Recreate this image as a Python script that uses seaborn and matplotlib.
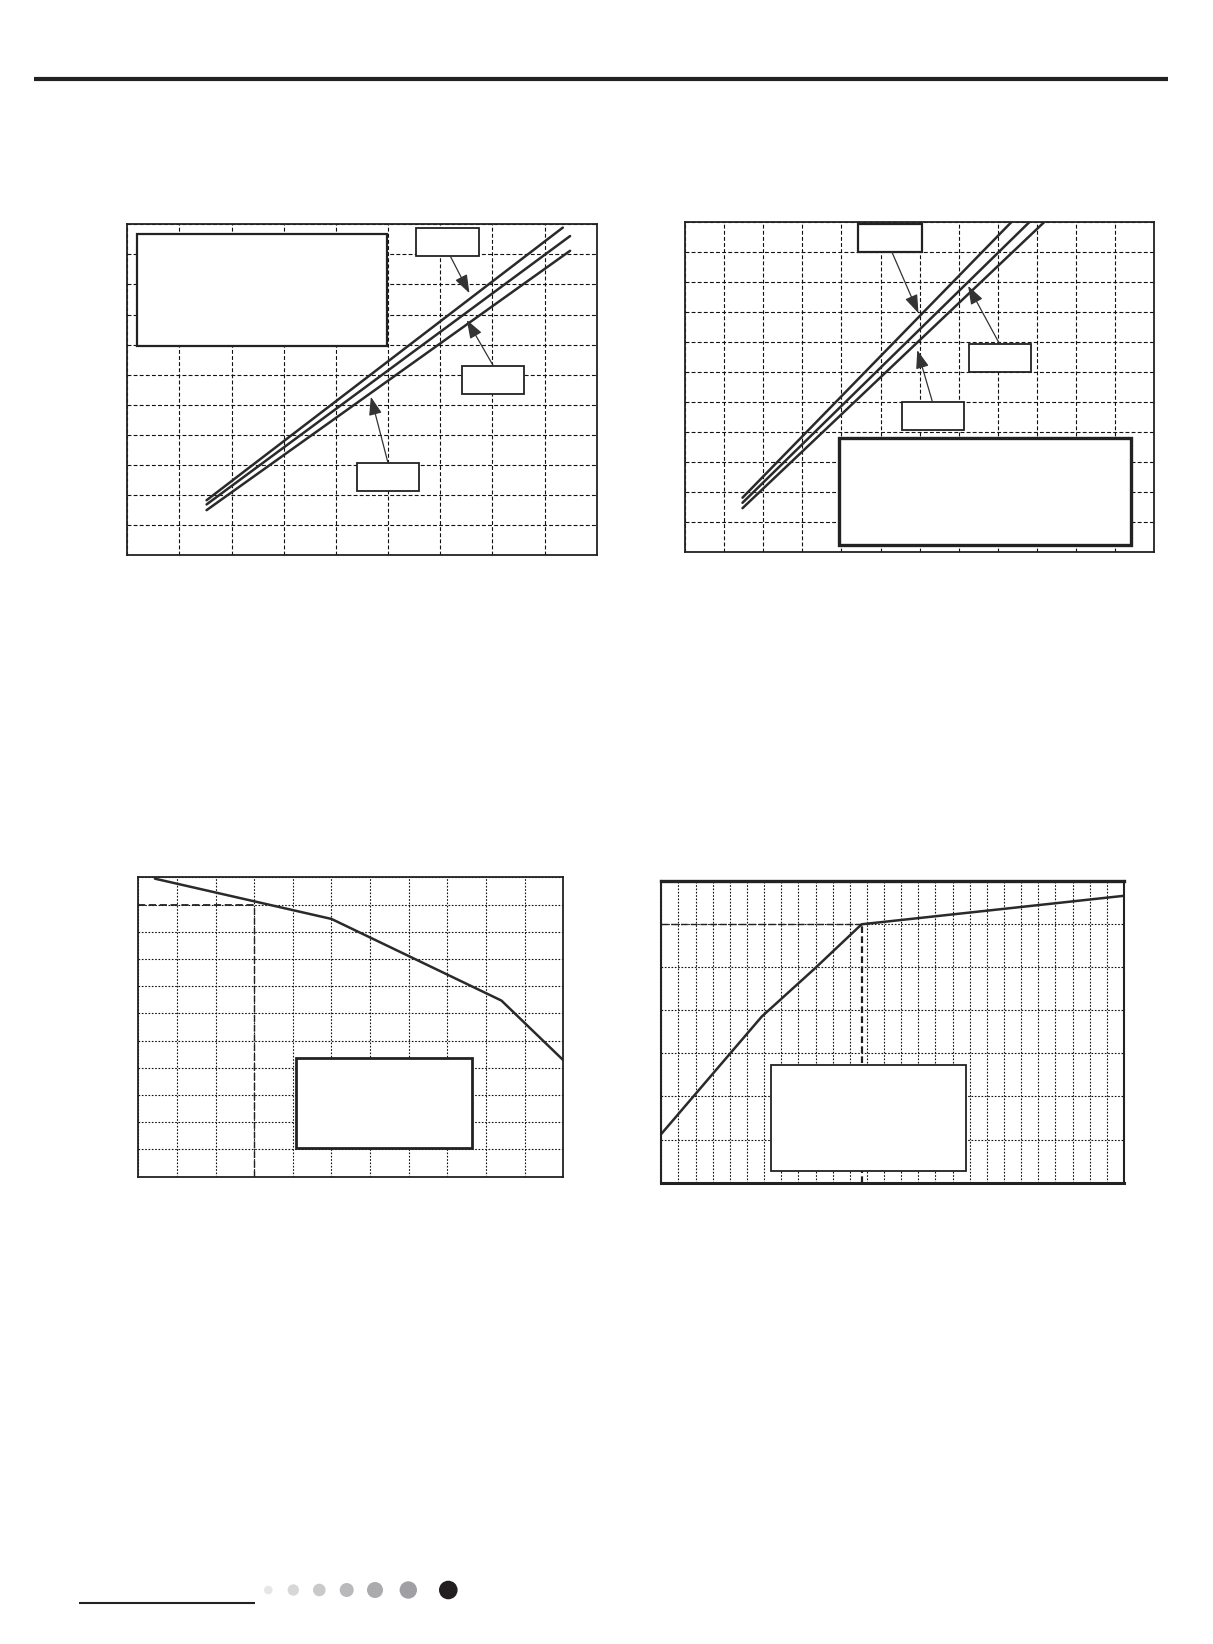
import numpy as np
import pandas as pd
import matplotlib
matplotlib.use("Agg")
import matplotlib.pyplot as plt
from matplotlib.patches import Rectangle, Circle
import seaborn as sns

# ---------------- data ----------------
# Chart 1 (top-left): three near-parallel straight lines
c1_x_start = [1.52, 1.52, 1.52]
c1_x_end = [8.35, 8.49, 8.49]
c1_y_start = [1.83, 1.69, 1.50]
c1_y_end = [10.89, 10.61, 10.12]
c1_names = ["A", "B", "C"]

# Chart 2 (top-right): three near-parallel straight lines
c2_x_start = [1.47, 1.47, 1.47]
c2_x_end = [8.34, 8.80, 9.18]
c2_y_start = [1.82, 1.65, 1.47]
c2_y_end = [11.0, 11.0, 11.0]
c2_names = ["A", "B", "C"]

# Chart 3 (bottom-left): piecewise curve
c3_x = [0.43, 5.0, 9.40, 11.0]
c3_y = [10.95, 9.47, 6.47, 4.28]
c3_ref_x = 3.0
c3_ref_y = 10.0

# Chart 4 (bottom-right): piecewise curve
c4_x = [0.0, 5.86, 8.97, 11.69, 27.0]
c4_y = [1.13, 3.85, 4.97, 5.99, 6.65]
c4_ref_x = 11.69
c4_ref_y = 6.0

W, H = 1213, 1644
sns.set_style("white")
plt.rcParams['font.family'] = ['DejaVu Sans']

fig = plt.figure(figsize=(W / 100, H / 100), dpi=100)

LINE_C = "#2a2a2a"


def add_ax(left, top, right, bottom):
    return fig.add_axes([left / W, 1 - bottom / H, (right - left) / W, (bottom - top) / H])


def style_ax(ax, nx, ny, ls, lw_spine=1.3):
    ax.set_xlim(0, nx)
    ax.set_ylim(0, ny)
    ax.set_xticks(np.arange(0, nx + 1))
    ax.set_yticks(np.arange(0, ny + 1))
    ax.tick_params(length=0, labelbottom=False, labelleft=False)
    ax.grid(True, color="#111111", linestyle=ls, linewidth=0.8)
    ax.set_axisbelow(True)
    for s in ax.spines.values():
        s.set_color("#222222")
        s.set_linewidth(lw_spine)
        s.set_visible(True)
    ax.set_xlabel("")
    ax.set_ylabel("")
    if ax.get_legend() is not None:
        ax.get_legend().remove()


def box(ax, x0, x1, y0, y1, lw=1.3):
    ax.add_patch(Rectangle((x0, y0), x1 - x0, y1 - y0, facecolor="white",
                           edgecolor="#222222", linewidth=lw, zorder=5))


def arrow(ax, xy_from, xy_to):
    ax.annotate("", xy=xy_to, xytext=xy_from,
                arrowprops=dict(arrowstyle="-|>,head_length=0.7,head_width=0.25",
                                color="#333333", lw=0.9,
                                mutation_scale=16, shrinkA=0, shrinkB=0),
                zorder=6)


def lines_df(xs, xe, ys, ye, names):
    rows = []
    for a, b, c, d, n in zip(xs, xe, ys, ye, names):
        rows.append({"x": a, "y": c, "s": n})
        rows.append({"x": b, "y": d, "s": n})
    return pd.DataFrame(rows)


# ---------- Chart 1 ----------
ax1 = add_ax(127.3, 224.3, 596.7, 555.3)
df1 = lines_df(c1_x_start, c1_x_end, c1_y_start, c1_y_end, c1_names)
sns.lineplot(data=df1, x="x", y="y", units="s", estimator=None, sort=False,
             color=LINE_C, linewidth=1.8, ax=ax1, legend=False)
style_ax(ax1, 9, 11, (0, (3.5, 2)))
box(ax1, 0.19, 4.98, 6.96, 10.67, lw=1.6)
box(ax1, 5.54, 6.75, 9.95, 10.87)
box(ax1, 6.42, 7.61, 5.35, 6.29)
box(ax1, 4.41, 5.60, 2.14, 3.06)
arrow(ax1, (6.19, 9.95), (6.56, 8.71))
arrow(ax1, (7.02, 6.29), (6.51, 7.82))
arrow(ax1, (5.00, 3.06), (4.67, 5.27))

# ---------- Chart 2 ----------
ax2 = add_ax(685, 222.3, 1154.3, 552.3)
df2 = lines_df(c2_x_start, c2_x_end, c2_y_start, c2_y_end, c2_names)
sns.lineplot(data=df2, x="x", y="y", units="s", estimator=None, sort=False,
             color=LINE_C, linewidth=1.8, ax=ax2, legend=False)
style_ax(ax2, 12, 11, (0, (3.5, 2)))
box(ax2, 4.43, 6.05, 10.01, 10.94, lw=1.6)
box(ax2, 7.26, 8.86, 6.00, 6.93)
box(ax2, 5.56, 7.14, 4.07, 5.00)
box(ax2, 3.95, 11.40, 0.24, 3.80, lw=2.4)
arrow(ax2, (5.29, 10.01), (5.97, 7.97))
arrow(ax2, (8.05, 6.93), (7.24, 8.88))
arrow(ax2, (6.33, 5.00), (5.94, 6.74))

# ---------- Chart 3 ----------
ax3 = add_ax(138.3, 877.3, 563.3, 1176.7)
df3 = pd.DataFrame({"x": c3_x, "y": c3_y})
sns.lineplot(data=df3, x="x", y="y", estimator=None, sort=False,
             color=LINE_C, linewidth=1.8, ax=ax3)
style_ax(ax3, 11, 11, (0, (1.5, 1.5)))
ax3.plot([0, c3_ref_x], [c3_ref_y, c3_ref_y], color="#222222", lw=1.3,
         linestyle=(0, (4, 2)), zorder=3)
ax3.plot([c3_ref_x, c3_ref_x], [0, c3_ref_y], color="#222222", lw=1.0,
         linestyle=(0, (5, 2)), zorder=3)
box(ax3, 4.08, 8.63, 1.07, 4.37, lw=2.0)

# ---------- Chart 4 ----------
ax4 = add_ax(661.3, 880.7, 1124, 1182.7)
df4 = pd.DataFrame({"x": c4_x, "y": c4_y})
sns.lineplot(data=df4, x="x", y="y", estimator=None, sort=False,
             color=LINE_C, linewidth=1.8, ax=ax4)
style_ax(ax4, 27, 7, (0, (1.5, 1.5)), lw_spine=1.5)
ax4.spines["top"].set_linewidth(2.4)
ax4.spines["bottom"].set_linewidth(2.2)
ax4.plot([0, c4_ref_x], [c4_ref_y, c4_ref_y], color="#222222", lw=1.0,
         linestyle=(0, (5, 2)), zorder=3)
ax4.plot([c4_ref_x, c4_ref_x], [0, c4_ref_y], color="#222222", lw=1.6,
         linestyle=(0, (3, 1.5)), zorder=3)
box(ax4, 6.40, 17.79, 0.26, 2.73, lw=1.3)

# ---------- page decorations ----------
page = fig.add_axes([0, 0, 1, 1], zorder=-1)
page.set_xlim(0, W)
page.set_ylim(H, 0)
page.axis("off")
page.plot([34, 1168], [78.8, 78.8], color="#222222", lw=3.0, solid_capstyle="butt")
page.plot([79, 255], [1602.7, 1602.7], color="#222222", lw=1.5, solid_capstyle="butt")
dot_x = [268.3, 293.3, 319.3, 346.7, 375.0, 408.3, 448.3]
dot_r = [4.3, 5.7, 6.3, 7.0, 8.0, 8.7, 9.3]
dot_c = ["#e6e6e6", "#d7d7d8", "#c9c9ca", "#b9b9bc", "#ababae", "#a0a0a4", "#231f20"]
for x, r, c in zip(dot_x, dot_r, dot_c):
    page.add_patch(Circle((x, 1590), r, facecolor=c, edgecolor="none"))
page.set_aspect("auto")

fig.savefig("out.png", dpi=100, facecolor="white")
